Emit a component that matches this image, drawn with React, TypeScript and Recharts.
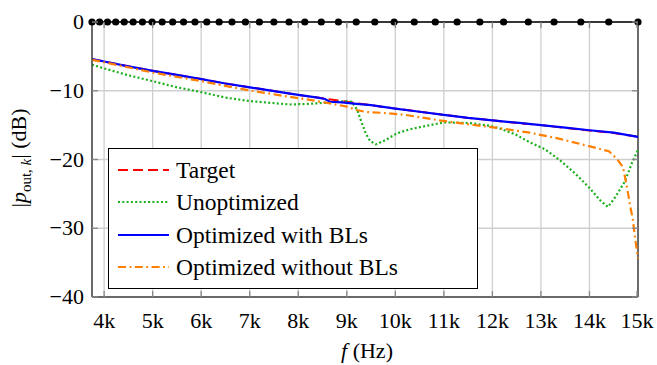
import React from 'react';
import { LineChart, Line, XAxis, YAxis, CartesianGrid, Legend, ReferenceLine } from 'recharts';

// frequencies (Hz) and levels (dB)
const dotFreqs = [3750, 3906, 4069, 4238, 4414, 4598, 4789, 4988, 5196, 5412, 5637, 5872, 6116, 6370, 6635, 6911, 7199, 7498, 7810, 8135, 8474, 8827, 9194, 9577, 9975, 10390, 10823, 11273, 11742, 12231, 12740, 13270, 13822, 14397, 15000];
const dotDb = dotFreqs.map(() => 0);

const targetF = [3750, 4000, 4500, 5000, 5500, 6000, 6500, 7000, 7500, 8000, 8500, 9000, 9500, 10000, 10500, 11000, 11500, 12000, 12500, 13000, 13500, 14000, 14500, 15000];
const targetDb = [-5.4, -5.75, -6.45, -7.1, -7.7, -8.3, -8.95, -9.5, -10.05, -10.6, -11.1, -11.6, -12.1, -12.6, -13.05, -13.5, -13.95, -14.3, -14.7, -15.0, -15.4, -15.8, -16.15, -16.7];

const blF = [3750, 4000, 4500, 5000, 5500, 6000, 6500, 7000, 7500, 8000, 8400, 8550, 8650, 8900, 9200, 9500, 10000, 10500, 11000, 11500, 12000, 12500, 13000, 13500, 14000, 14500, 15000];
const blDb = [-5.4, -5.75, -6.45, -7.1, -7.7, -8.3, -8.95, -9.5, -10.05, -10.6, -11.0, -11.2, -11.6, -11.7, -11.9, -12.1, -12.6, -13.05, -13.5, -13.95, -14.3, -14.65, -15.0, -15.35, -15.75, -16.1, -16.7];

const unoptF = [3750, 4000, 4500, 5000, 5500, 6000, 6500, 7000, 7500, 7830, 8240, 8650, 8960, 9100, 9210, 9310, 9390, 9480, 9600, 9790, 10030, 10300, 10710, 11020, 11540, 11950, 12155, 12460, 12770, 13080, 13390, 13700, 14010, 14215, 14380, 14520, 14730, 14870, 15000];
const unoptDb = [-6.2, -6.75, -7.75, -8.6, -9.5, -10.2, -11.0, -11.5, -11.8, -12.0, -11.9, -11.7, -11.5, -11.6, -12.7, -14.7, -16.2, -17.3, -17.8, -17.2, -16.2, -15.6, -15.0, -14.6, -14.7, -15.1, -15.5, -16.3, -17.5, -18.5, -20.1, -22.0, -24.2, -25.9, -26.9, -25.6, -23.2, -20.6, -18.6];

const noblF = [3750, 4000, 5000, 6000, 6760, 7000, 7830, 8300, 8700, 9000, 9200, 9400, 9700, 10200, 10900, 11200, 12200, 12770, 13390, 14010, 14400, 14565, 14690, 14765, 14835, 14895, 14955, 15000];
const noblDb = [-5.5, -5.85, -7.35, -8.6, -9.65, -9.95, -10.9, -11.4, -11.9, -12.3, -12.8, -13.1, -13.2, -13.5, -14.3, -14.6, -15.5, -16.1, -17.0, -18.1, -18.8, -19.9, -21.1, -23.7, -26.6, -28.8, -32.2, -34.4];

const xTicks = [4000, 5000, 6000, 7000, 8000, 9000, 10000, 11000, 12000, 13000, 14000, 15000];
const yTicks = [-40, -30, -20, -10, 0];

const legendItems = [
  { name: 'Target', color: '#ff0000', dash: '10 5', width: 2 },
  { name: 'Unoptimized', color: '#1cb01c', dash: '2 2.3', width: 2.2 },
  { name: 'Optimized with BLs', color: '#0000ff', dash: undefined, width: 2.2 },
  { name: 'Optimized without BLs', color: '#ff8000', dash: '8 3.5 1.8 3.5', width: 2.2 },
];

const zip = (f: number[], v: number[]) => f.map((x, i) => ({ f: x, v: v[i] }));

const FONT = "'Liberation Serif', 'Times New Roman', serif";
const W = 657;
const H = 365;
const M = { top: 22, right: 19, left: 0, bottom: 0 };
const YW = 92;
const XH = 68;
const PL = M.left + YW;
const PR = W - M.right;
const PT = M.top;
const PB = H - XH;

const textStyle = { fontFamily: FONT, fontSize: 22, fill: '#000' } as const;

const XTick = (props: any) => {
  const { x, payload } = props;
  return (
    <g>
      <line x1={x} x2={x} y1={PB} y2={PB - 6} stroke="#888" strokeWidth={1.3} />
      <line x1={x} x2={x} y1={PT} y2={PT + 6} stroke="#888" strokeWidth={1.3} />
      <text x={x} y={PB + 31} textAnchor="middle" style={textStyle}>
        {`${payload.value / 1000}k`}
      </text>
    </g>
  );
};

const YTick = (props: any) => {
  const { y, payload } = props;
  const v = payload.value;
  const label = v < 0 ? `\u2212${Math.abs(v)}` : `${v}`;
  return (
    <g>
      <line x1={PL} x2={PL + 6} y1={y} y2={y} stroke="#888" strokeWidth={1.3} />
      <line x1={PR} x2={PR - 6} y1={y} y2={y} stroke="#888" strokeWidth={1.3} />
      <text x={PL - 8} y={y + 7} textAnchor="end" style={textStyle}>
        {label}
      </text>
    </g>
  );
};

const YLabel = () => {
  const cx = 26;
  const cy = 158;
  return (
    <text transform={`translate(${cx},${cy}) rotate(-90)`} textAnchor="middle" style={textStyle}>
      <tspan>|</tspan>
      <tspan fontStyle="italic">p</tspan>
      <tspan fontSize={15} dy={5}>out, </tspan>
      <tspan fontSize={15} fontStyle="italic">k</tspan>
      <tspan dy={-5}>| (dB)</tspan>
    </text>
  );
};

const XLabel = () => (
  <text x={367} y={358} textAnchor="middle" style={textStyle}>
    <tspan fontStyle="italic">f</tspan>
    <tspan> (Hz)</tspan>
  </text>
);

const LegendBox = () => (
  <div
    style={{
      width: 370,
      height: 141,
      border: '1.3px solid #000',
      background: '#fff',
      boxSizing: 'border-box',
      position: 'relative',
      fontFamily: FONT,
      fontSize: 23.5,
      color: '#000',
    }}
  >
    {legendItems.map((it, i) => (
      <div
        key={it.name}
        style={{ position: 'absolute', left: 0, top: 5 + i * 32.3, height: 32, display: 'flex', alignItems: 'center', whiteSpace: 'nowrap' }}
      >
        <svg width={66} height={32} style={{ display: 'block' }}>
          <line x1={9} x2={60} y1={16} y2={16} stroke={it.color} strokeWidth={it.width} strokeDasharray={it.dash} />
        </svg>
        <span style={{ marginLeft: 1, lineHeight: '32px' }}>{it.name}</span>
      </div>
    ))}
  </div>
);

export default function App() {
  return (
    <div style={{ position: 'absolute', left: 0, top: 0, width: W, height: H, background: '#fff' }}>
      <LineChart width={W} height={H} margin={M}>
        <CartesianGrid stroke="#cfcfcf" strokeWidth={1.3} />
        <XAxis
          type="number"
          dataKey="f"
          domain={[3750, 15000]}
          ticks={xTicks}
          height={XH}
          tick={<XTick />}
          tickLine={false}
          tickSize={0}
          axisLine={{ stroke: '#444', strokeWidth: 1.5 }}
          label={<XLabel />}
        />
        <YAxis
          type="number"
          domain={[-40, 0]}
          ticks={yTicks}
          width={YW}
          tick={<YTick />}
          tickLine={false}
          tickSize={0}
          axisLine={{ stroke: '#444', strokeWidth: 1.5 }}
          label={<YLabel />}
        />
        <ReferenceLine x={15000} stroke="#444" strokeWidth={1.5} />
        <Legend
          layout="horizontal"
          verticalAlign="middle"
          align="center"
          content={<LegendBox />}
          wrapperStyle={{ position: 'absolute', left: 108, top: 148, width: 370, height: 141 }}
        />
        <Line data={zip(targetF, targetDb)} dataKey="v" stroke="#ff0000" strokeWidth={2} strokeDasharray="10 5" dot={false} isAnimationActive={false} />
        <Line data={zip(unoptF, unoptDb)} dataKey="v" stroke="#1cb01c" strokeWidth={2.2} strokeDasharray="2 2.3" dot={false} isAnimationActive={false} />
        <Line data={zip(blF, blDb)} dataKey="v" stroke="#0000ff" strokeWidth={2.2} dot={false} isAnimationActive={false} />
        <Line data={zip(noblF, noblDb)} dataKey="v" stroke="#ff8000" strokeWidth={2.2} strokeDasharray="8 3.5 1.8 3.5" dot={false} isAnimationActive={false} />
        <Line
          data={zip(dotFreqs, dotDb)}
          dataKey="v"
          stroke="#000"
          strokeWidth={1.3}
          dot={{ r: 3.6, fill: '#000', stroke: '#000', strokeWidth: 0 }}
          isAnimationActive={false}
        />
      </LineChart>
    </div>
  );
}
